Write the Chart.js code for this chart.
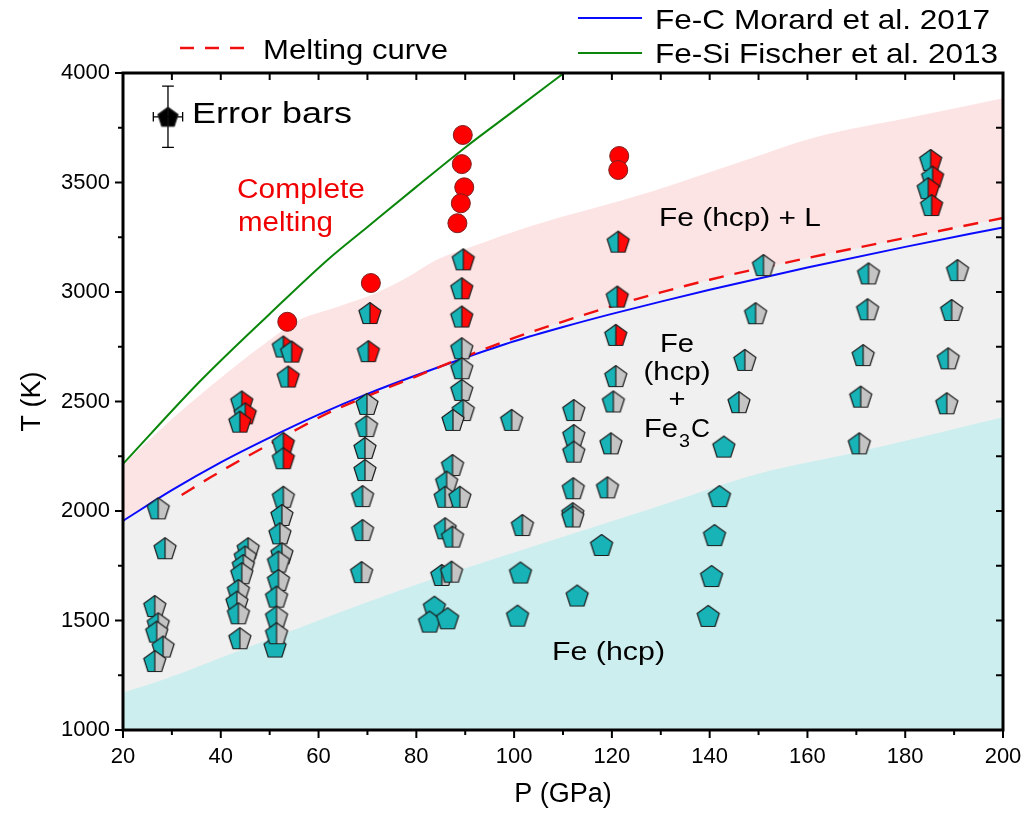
<!DOCTYPE html>
<html><head><meta charset="utf-8">
<script src="https://cdn.jsdelivr.net/npm/chart.js@4/dist/chart.umd.min.js"></script>
<style>html,body{margin:0;padding:0;background:#fff}</style>
</head><body>
<canvas id="c" width="1028" height="817"></canvas>
<script>
// ---------- tick labels ----------
const pressureTicks = [20,40,60,80,100,120,140,160,180,200];
const pressureMinor = [30,50,70,90,110,130,150,170,190];
const tempTicks = [1000,1500,2000,2500,3000,3500,4000];
const tempMinor = [1250,1750,2250,2750,3250,3750];

// ---------- boundary curves ----------
const morardP = [20,30,40,50,60,70,80,90,100,110,120,130,140,160,180,200];
const morardT = [1955,2095,2222,2335,2440,2535,2620,2700,2775,2840,2900,2956,3010,3112,3206,3295];
const fischerP = [20,36,50,62,70,80,90,100,110.5];
const fischerT = [2215,2598,2900,3150,3297,3480,3660,3828,4005];
const meltP = [32,38,44,50,56,62,70,80,90,100,110,120,130,140,160,180,200];
const meltT = [2073,2155,2232,2305,2378,2448,2525,2615,2705,2790,2865,2935,2998,3056,3155,3247,3338];

// ---------- shaded phase fields (upper edges) ----------
const liquidTopP = [20,30,42,50,56,64,72,78,84,92,103,128,145,162,180,200];
const liquidTopT = [2210,2420,2644,2781,2872,2933,2998,3065,3145,3212,3298,3458,3584,3709,3792,3885];
const carbideTopP = [20,30,40,50,60,70,80,90,100,110,120,130,140,160,180,200];
const carbideTopT = [1955,2095,2222,2335,2440,2535,2620,2705,2790,2865,2935,2998,3056,3155,3247,3338];
const hcpTopP = [20,28,40,60,77,100,128,150,170,200];
const hcpTopT = [1170,1228,1330,1500,1640,1810,2010,2170,2268,2428];

// ---------- experimental points ----------
// Fe (hcp) + Fe3C  (cyan / grey pentagons)
const hcpCarbP = [27.2,28.6,26.5,27.2,26.9,28.2,26.5,
  45.6,45,44.6,44.3,43.6,43.3,43.6,43.9,
  52.8,52.5,52.1,52.5,51.8,51.8,51.4,51.4,51.4,
  69.9,69.8,69.5,69.5,69.0,69.0,68.8,
  89.3,89.3,89.3,89.6,87.5,87.4,86.2,85.9,88.9,85.9,87.4,85.2,87.2,
  99.5,101.7,
  112.2,112.2,112.2,112.1,112.0,112.0,
  120.8,120.3,119.8,119.1,
  151,149.4,147.2,146,
  172.5,172.3,171.4,170.9,170.6,
  190.7,189.5,188.8,188.5];
const hcpCarbT = [2012,1830,1566,1487,1449,1381,1315,
  1830,1792,1753,1716,1639,1586,1533,1419,
  2065,1982,1898,1807,1769,1685,1609,1518,1442,
  2489,2388,2288,2187,2068,1913,1721,
  2743,2652,2553,2461,2416,2210,2134,2065,2065,1921,1883,1708,1723,
  2416,1936,
  2461,2347,2271,2104,1990,1975,
  2616,2500,2309,2108,
  3123,2903,2690,2497,
  3085,2921,2712,2522,2309,
  3100,2918,2697,2492];
// Fe (hcp) + liquid  (cyan / red pentagons)
const hcpLiqP = [44.3,45,43.9, 52.8,54.5,53.8,52.8,52.8, 70.5,70.2, 89.6,89.3,89.3, 121.3,121.1,120.8, 185.2,185.6,184.7,185.4];
const hcpLiqT = [2500,2446,2408, 2751,2728,2614,2310,2241, 2904,2730, 3149,3017,2888, 3230,2979,2804, 3603,3527,3474,3397];
// Fe (hcp) only (cyan pentagons)
const hcpP = [51.1, 83.7,82.7,86.4, 101.3,100.7, 112.9, 117.9, 142.9,142,141,140.4,139.7];
const hcpT = [1381, 1563,1495,1510, 1719,1522, 1614, 1845, 2294,2068,1890,1703,1521];
// complete melting (red circles)
const meltedP = [53.6,70.7,89.5,89.3,89.8,89.1,88.4,121.5,121.3];
const meltedT = [2864,3041,3717,3584,3478,3405,3314,3621,3557];
// representative error bar
const errCenterP = [29.2], errCenterT = [3800];
const errHalfP = 3.0, errHalfT = 140;

// ---------- helpers ----------
const FONT = "'Liberation Sans', Arial, Helvetica, sans-serif";
const zip = (xs, ys) => xs.map((x,i)=>({x, y: ys[i]}));
const C_CYAN = '#17b3b7', C_GREY = '#c4c4c4', C_RED = '#ff0a0a';

function makePentagon(left, right, R, split){
  const s = Math.ceil(2*R + 4);
  const c = document.createElement('canvas'); c.width = s; c.height = s;
  const g = c.getContext('2d');
  const cx = s/2, cy = s/2 + 0.095*R;
  const pts = [];
  for (let i=0;i<5;i++){ const a = -Math.PI/2 + i*2*Math.PI/5; pts.push([cx+R*Math.cos(a), cy+R*Math.sin(a)]); }
  const path = () => { g.beginPath(); pts.forEach((p,i)=> i? g.lineTo(p[0],p[1]) : g.moveTo(p[0],p[1])); g.closePath(); };
  g.save(); path(); g.clip();
  g.fillStyle = left; g.fillRect(0,0,cx,s);
  g.fillStyle = right; g.fillRect(cx,0,s-cx,s);
  g.restore();
  path(); g.strokeStyle = '#1e1e1e'; g.lineWidth = 1.2; g.lineJoin='round'; g.stroke();
  if (split){ g.beginPath(); g.moveTo(cx, cy-R); g.lineTo(cx, cy + R*Math.cos(Math.PI/5)); g.stroke(); }
  return c;
}
const pentCG = makePentagon(C_CYAN, C_GREY, 11.6, true);
const pentCR = makePentagon(C_CYAN, C_RED, 11.6, true);
const pentC  = makePentagon(C_CYAN, C_CYAN, 11.6, false);
const pentK  = makePentagon('#000', '#000', 10.5, false);

const regionDs = (P, T, color, order) => ({
  type:'line', data: zip(P,T), showLine:true, fill:'start', backgroundColor: color,
  borderWidth:0, borderColor:'rgba(0,0,0,0)', pointRadius:0, cubicInterpolationMode:'monotone', order
});
const curveDs = (P, T, color, dash, order) => ({
  type:'line', data: zip(P,T), showLine:true, fill:false, borderColor: color, borderWidth: dash ? 2.4 : 2,
  borderDash: dash || [], pointRadius:0, cubicInterpolationMode:'monotone', order
});
const pointDs = (P, T, style, order) => ({
  type:'scatter', data: zip(P,T), pointStyle: style, pointRadius: 11, order
});

const cP = errCenterP[0], cT = errCenterT[0];
const capP = 1.2, capT = 22;
const errLines = [
  {x:cP, y:cT-errHalfT},{x:cP, y:cT+errHalfT},{x:cP, y:null},
  {x:cP-capP, y:cT-errHalfT},{x:cP+capP, y:cT-errHalfT},{x:cP, y:null},
  {x:cP-capP, y:cT+errHalfT},{x:cP+capP, y:cT+errHalfT},{x:cP, y:null},
  {x:cP-errHalfP, y:cT},{x:cP+errHalfP, y:cT},{x:cP, y:null},
  {x:cP-errHalfP, y:cT-capT},{x:cP-errHalfP, y:cT+capT},{x:cP, y:null},
  {x:cP+errHalfP, y:cT-capT},{x:cP+errHalfP, y:cT+capT}
];

const datasets = [
  regionDs(liquidTopP, liquidTopT, '#fde4e4', 20),
  regionDs(carbideTopP, carbideTopT, '#f0f0f0', 19),
  regionDs(hcpTopP, hcpTopT, '#cdeeef', 18),
  curveDs(fischerP, fischerT, '#0a870a', null, 10),
  curveDs(morardP, morardT, '#0a0aff', null, 9),
  curveDs(meltP, meltT, '#f01010', [15,11], 8),
  {type:'line', data: errLines, showLine:true, spanGaps:false, fill:false, borderColor:'#000', borderWidth:1.3, pointRadius:0, tension:0, order:4},
  pointDs(hcpCarbP, hcpCarbT, pentCG, 3),
  pointDs(hcpP, hcpT, pentC, 3),
  pointDs(hcpLiqP, hcpLiqT, pentCR, 2),
  {type:'scatter', data: zip(meltedP, meltedT), pointStyle:'circle', pointRadius:9.5, backgroundColor:'#ff0000', borderColor:'#7a1f1f', borderWidth:1, order:1},
  pointDs(errCenterP, errCenterT, pentK, 0)
];

function fitText(ctx, s, x, y, size, color, width, align){
  ctx.save();
  ctx.font = size + 'px ' + FONT; ctx.fillStyle = color; ctx.textBaseline = 'alphabetic';
  const w = ctx.measureText(s).width;
  const sx = width ? width / w : 1;
  ctx.translate(x, y); ctx.scale(sx, 1);
  ctx.textAlign = align || 'left';
  ctx.fillText(s, 0, 0);
  ctx.restore();
  return w * sx;
}

const annotations = {
  id:'annotations',
  afterDatasetsDraw(chart){
    const ctx = chart.ctx;
    fitText(ctx, 'Error bars', 192, 123, 29, '#000', 160);
    fitText(ctx, 'Complete', 237, 198, 27, '#f00000', 128);
    fitText(ctx, 'melting', 238, 231, 27, '#f00000', 95);
    fitText(ctx, 'Fe (hcp) + L', 659, 226, 26, '#000', 162);
    fitText(ctx, 'Fe', 677, 352, 26, '#000', 34, 'center');
    fitText(ctx, '(hcp)', 677, 380, 26, '#000', 67, 'center');
    fitText(ctx, '+', 677, 407, 26, '#000', 17, 'center');
    const w1 = fitText(ctx, 'Fe', 644, 437, 26, '#000', 34);
    const w2 = fitText(ctx, '3', 644 + w1 + 1, 447, 18, '#000', 11);
    fitText(ctx, 'C', 644 + w1 + w2 + 2, 437, 26, '#000', 19);
    fitText(ctx, 'Fe (hcp)', 552, 660, 26, '#000', 113);
  },
  afterDraw(chart){
    const ctx = chart.ctx, a = chart.chartArea, xs = chart.scales.x, ys = chart.scales.y;
    ctx.save();
    ctx.strokeStyle = '#000'; ctx.lineCap = 'butt';
    const seg = (x1,y1,x2,y2) => { ctx.beginPath(); ctx.moveTo(x1,y1); ctx.lineTo(x2,y2); ctx.stroke(); };
    ctx.lineWidth = 2;
    pressureTicks.forEach(v => { const p = xs.getPixelForValue(v); seg(p, a.bottom, p, a.bottom+8); seg(p, a.top, p, a.top+7); });
    pressureMinor.forEach(v => { const p = xs.getPixelForValue(v); seg(p, a.bottom, p, a.bottom+5); seg(p, a.top, p, a.top+7); });
    tempTicks.forEach(v => { const p = ys.getPixelForValue(v); seg(a.left-8, p, a.left, p); seg(a.right-7, p, a.right, p); });
    tempMinor.forEach(v => { const p = ys.getPixelForValue(v); seg(a.left-5, p, a.left, p); seg(a.right-7, p, a.right, p); });
    ctx.lineWidth = 3;
    ctx.strokeRect(a.left, a.top, a.right - a.left, a.bottom - a.top);
    const ds = chart.data.datasets;
    ctx.lineWidth = 2.4; ctx.strokeStyle = ds[5].borderColor; ctx.setLineDash([14,11]);
    seg(180, 48, 252, 48);
    ctx.setLineDash([]);
    ctx.lineWidth = 2; ctx.strokeStyle = ds[4].borderColor; seg(578, 18, 642, 18);
    ctx.strokeStyle = ds[3].borderColor; seg(578, 53, 642, 53);
    ctx.restore();
    fitText(ctx, 'Melting curve', 263, 59, 28, '#000', 185);
    fitText(ctx, 'Fe-C Morard et al. 2017', 655, 29, 28, '#000', 335);
    fitText(ctx, 'Fe-Si Fischer et al. 2013', 655, 63, 28, '#000', 343);
  }
};

new Chart(document.getElementById('c'), {
  type:'scatter',
  data:{ datasets },
  options:{
    responsive:false, animation:false, devicePixelRatio:1,
    layout:{ padding:{ top:73, right:25, left:0, bottom:0 } },
    plugins:{ legend:{display:false}, tooltip:{enabled:false} },
    scales:{
      x:{
        type:'linear', min:20, max:200,
        afterBuildTicks: s => { s.ticks = pressureTicks.map(v => ({value:v})); },
        afterFit: s => { s.height = 87; },
        grid:{ display:true, drawOnChartArea:false, drawTicks:true, tickLength:8, color:'rgba(0,0,0,0)' },
        border:{ display:false },
        ticks:{ padding:6, color:'#000', font:{family:FONT, size:22}, maxRotation:0, autoSkip:false, callback: v => String(v) },
        title:{ display:true, text:'P (GPa)', color:'#000', font:{family:FONT, size:27}, padding:{top:0, bottom:6} }
      },
      y:{
        type:'linear', min:1000, max:4000,
        afterBuildTicks: s => { s.ticks = tempTicks.map(v => ({value:v})); },
        afterFit: s => { s.width = 123; },
        grid:{ display:true, drawOnChartArea:false, drawTicks:true, tickLength:8, color:'rgba(0,0,0,0)' },
        border:{ display:false },
        ticks:{ padding:5, color:'#000', font:{family:FONT, size:22}, autoSkip:false, callback: v => String(v) },
        title:{ display:true, text:'T (K)', color:'#000', font:{family:FONT, size:27}, padding:{top:16, bottom:0} }
      }
    }
  },
  plugins:[annotations]
});
</script>
</body></html>
